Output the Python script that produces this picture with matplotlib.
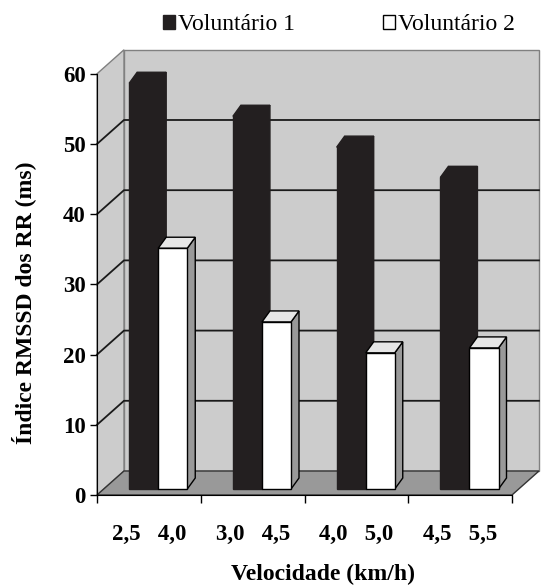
import matplotlib.pyplot as plt
from matplotlib.patches import Polygon

# data
groups = ["2,5   4,0", "3,0   4,5", "4,0   5,0", "4,5   5,5"]
series_names = ["Voluntário 1", "Voluntário 2"]
vol1 = [57.8, 53.1, 48.7, 44.4]
vol2 = [34.3, 23.8, 19.4, 20.1]
yticks = [0, 10, 20, 30, 40, 50, 60]

# colours
wall_color = "#cccccc"
floor_color = "#999999"
dark = "#231f20"
bar_top_white = "#e6e6e6"
bar_side_white = "#999999"

# oblique "3d" offsets, in data units (x = categories, y = value)
wdx, wdy = 0.26, 3.42      # depth of the wall / floor
bfx, bfy = 0.09, 0.85      # bar front plane offset from front axis
bdx, bdy = 0.077, 1.57     # depth of the bars
bw = 0.28                  # bar width

plt.rcParams["font.family"] = ["Liberation Serif", "DejaVu Serif"]

fig = plt.figure(figsize=(5.41, 5.86), dpi=100)
W, H = 541, 586
x0px, y0px = 97, 495          # front plane origin in pixels (from top)
px_cat, px_val = 103.75, 7.02
ylo, yhi = -1.0, 64.0
xlo, xhi = -0.02, 4.3
ax = fig.add_axes([(x0px + xlo * px_cat) / W,
                   (H - y0px + ylo * px_val) / H,
                   (xhi - xlo) * px_cat / W,
                   (yhi - ylo) * px_val / H])
ax.set_xlim(xlo, xhi)
ax.set_ylim(ylo, yhi)
ax.patch.set_visible(False)

n = len(groups)
top = yticks[-1]

# back wall
ax.add_patch(Polygon([(wdx, wdy), (n + wdx, wdy), (n + wdx, top + wdy), (wdx, top + wdy)],
                     closed=True, fc=wall_color, ec="#808080", lw=1.0, zorder=1))
# side wall
ax.add_patch(Polygon([(0, 0), (wdx, wdy), (wdx, top + wdy), (0, top)],
                     closed=True, fc=wall_color, ec="#808080", lw=1.0, zorder=1))
# grid lines on walls
for v in yticks[1:-1]:
    ax.plot([0, wdx, n + wdx], [v, v + wdy, v + wdy], color="#1a1a1a", lw=1.3, zorder=2)
# floor
ax.add_patch(Polygon([(0, 0), (n, 0), (n + wdx, wdy), (wdx, wdy)],
                     closed=True, fc=floor_color, ec="#333333", lw=1.0, zorder=2))


def draw_bar(xc, v, face, topc, sidec, edge, label=None, z=3):
    xl, xr = xc - bw / 2, xc + bw / 2
    t = bfy + v
    ax.add_patch(Polygon([(xr, bfy), (xr + bdx, bfy + bdy), (xr + bdx, t + bdy), (xr, t)],
                         closed=True, fc=sidec, ec=edge, lw=1.0, zorder=z))
    ax.add_patch(Polygon([(xl, t), (xr, t), (xr + bdx, t + bdy), (xl + bdx, t + bdy)],
                         closed=True, fc=topc, ec=edge, lw=1.0, zorder=z))
    ax.bar(xc, v, width=bw, bottom=bfy, color=face, edgecolor=edge, lw=1.0,
           zorder=z + 0.5, label=label)


for i in range(n):
    draw_bar(i + 0.45, vol1[i], dark, dark, dark, dark,
             label=series_names[0] if i == 0 else None, z=3 + i * 2)
    draw_bar(i + 0.73, vol2[i], "white", bar_top_white, bar_side_white, "black",
             label=series_names[1] if i == 0 else None, z=4 + i * 2)

# axes
for s in ["top", "right"]:
    ax.spines[s].set_visible(False)
ax.spines["left"].set_position(("data", 0))
ax.spines["left"].set_bounds(0, top)
ax.spines["bottom"].set_position(("data", 0))
ax.spines["bottom"].set_bounds(0, n)
ax.spines["left"].set_zorder(20)
ax.spines["bottom"].set_zorder(20)
ax.set_yticks(yticks)
ax.set_yticklabels([str(v) for v in yticks], fontsize=16.5, fontweight="bold")
ax.set_xticks(range(n + 1))
ax.set_xticklabels([])
ax.set_xticks([i + 0.5 for i in range(n)], minor=True)
ax.set_xticklabels(groups, minor=True, fontsize=16.5, fontweight="bold")
ax.tick_params(axis="y", length=5, width=1, pad=3)
ax.tick_params(axis="x", which="major", length=6, width=1)
ax.tick_params(axis="x", which="minor", length=0, pad=21)

fig.text(323 / W, 1 - 574 / H, "Velocidade (km/h)", fontsize=17, fontweight="bold",
         ha="center", va="center")
fig.text(24 / W, 1 - 303 / H, "Índice RMSSD dos RR (ms)", fontsize=17, fontweight="bold",
         ha="center", va="center", rotation=90)

fig.legend(loc="center", bbox_to_anchor=(339 / W, 1 - 25 / H), ncol=2, frameon=False,
           fontsize=17, handlelength=0.5, handleheight=0.55, handletextpad=0.15,
           columnspacing=3.7, borderpad=0)

fig.savefig("out.png", dpi=100)
